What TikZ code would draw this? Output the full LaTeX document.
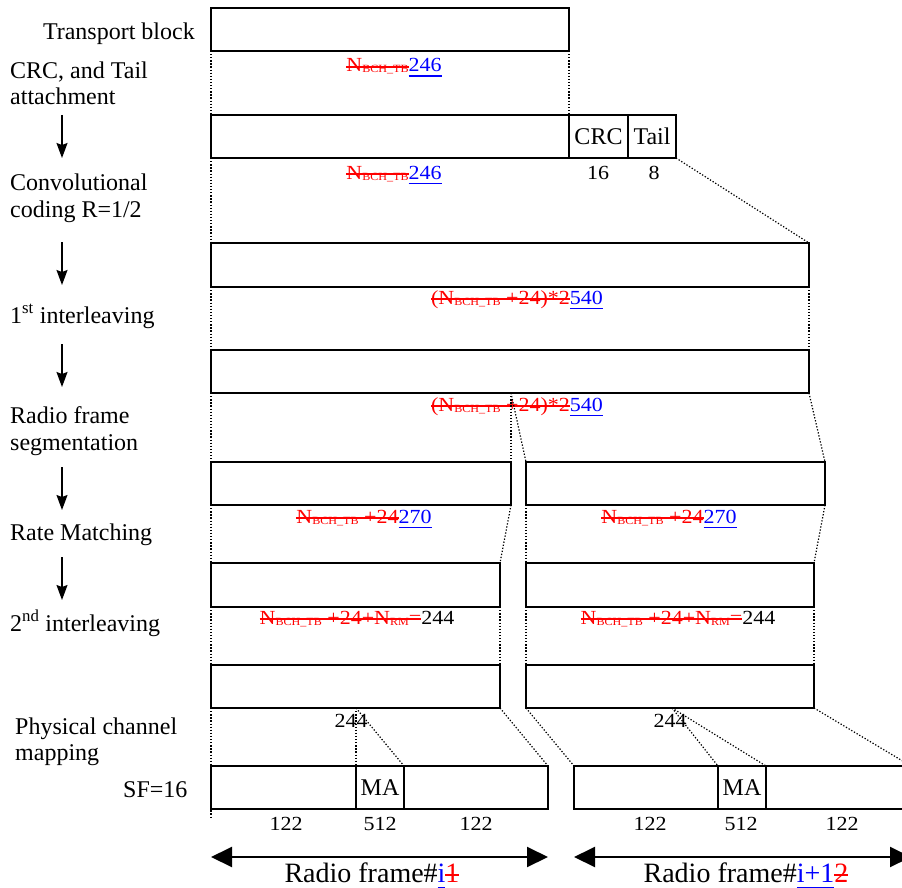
\documentclass[tikz,border=0pt]{standalone}
\usepackage{fontspec}
\setmainfont{Liberation Serif}
\newfontfamily\labfont[FakeStretch=1.1]{Liberation Serif}
\usetikzlibrary{arrows.meta}
\newsavebox\strkbox
\newcommand\rdel[1]{\textcolor{red}{\sbox\strkbox{#1}\rlap{\rule[0.22em]{\wd\strkbox}{0.065em}}\usebox\strkbox}}
\newcommand\bins[1]{\textcolor{blue}{\sbox\strkbox{#1}\rlap{\rule[-0.24em]{\wd\strkbox}{0.065em}}\usebox\strkbox}}
\newcommand\sbs[1]{\raisebox{-1pt}{\fontsize{11}{11}\selectfont #1}}
\begin{document}
\begin{tikzpicture}[x=1pt,y=-1pt,
  box/.style={draw, line width=1.6pt, inner sep=0pt, outer sep=0pt, anchor=north west, font=\fontsize{24}{27}\selectfont},
  lab/.style={inner sep=0pt, anchor=base, font=\labfont\fontsize{20}{22}\selectfont},
  side/.style={inner sep=0pt, anchor=base west, font=\fontsize{24}{27}\selectfont},
  big/.style={inner sep=0pt, anchor=base, font=\fontsize{28}{32}\selectfont},
  dots/.style={line width=1.2pt, dash pattern=on 1.3pt off 1.8pt},
  down/.style={line width=1.5pt, -{Stealth[length=15pt,width=11pt,inset=2pt]}},
  span/.style={line width=2pt, {Triangle[length=21pt,width=20pt]}-{Triangle[length=21pt,width=20pt]}}]
\useasboundingbox (0,0) rectangle (902,888);

% left column
\node[inner sep=0pt, anchor=base east, font=\fontsize{24}{27}\selectfont] (s1) at (195,40) {Transport block};
\node[side] (s2) at (10,79) {CRC, and Tail};
\node[side] (s3) at (10,105) {attachment};
\node[side] (s4) at (10,190) {Convolutional};
\node[side] (s5) at (10,217) {coding R=1/2};
\node[side] (s6) at (10,323) {1\textsuperscript{st} interleaving};
\node[side] (s7) at (10,423) {Radio frame};
\node[side] (s8) at (10,450) {segmentation};
\node[side] (s9) at (10,540) {Rate Matching};
\node[side] (s10) at (10,631) {2\textsuperscript{nd} interleaving};
\node[side] (s11) at (15,734) {Physical channel};
\node[side] (s12) at (15,760) {mapping};
\node[side] (s13) at (123,797) {SF=16};

\coordinate (a1s) at (62,115); \coordinate (a1e) at (62,158);
\coordinate (a2s) at (62,242); \coordinate (a2e) at (62,285);
\coordinate (a3s) at (62,344); \coordinate (a3e) at (62,387);
\coordinate (a4s) at (62,467); \coordinate (a4e) at (62,510);
\coordinate (a5s) at (62,557); \coordinate (a5e) at (62,600);
\draw[down] (a1s) -- (a1e);
\draw[down] (a2s) -- (a2e);
\draw[down] (a3s) -- (a3e);
\draw[down] (a4s) -- (a4e);
\draw[down] (a5s) -- (a5e);

% boxes
\node[box, minimum width=358, minimum height=43] (tb) at (211,8) {};
\node[box, minimum width=358, minimum height=43] (b2) at (211,115) {};
\node[box, minimum width=59, minimum height=43] (crc) at (569,115) {CRC};
\node[box, minimum width=48, minimum height=43] (tail) at (628,115) {Tail};
\node[box, minimum width=598, minimum height=44] (b3) at (211,243) {};
\node[box, minimum width=598, minimum height=43] (b4) at (211,350) {};
\node[box, minimum width=300, minimum height=43] (b5l) at (211,462) {};
\node[box, minimum width=299, minimum height=43] (b5r) at (526,462) {};
\node[box, minimum width=289, minimum height=44] (b6l) at (211,563) {};
\node[box, minimum width=288, minimum height=44] (b6r) at (526,563) {};
\node[box, minimum width=289, minimum height=43] (b7l) at (211,665) {};
\node[box, minimum width=288, minimum height=43] (b7r) at (526,665) {};
\node[box, minimum width=337, minimum height=43] (sfl) at (211,766) {};
\node[box, minimum width=337, minimum height=43] (sfr) at (574,766) {};
\node[box, minimum width=48, minimum height=43] (ma1) at (356,766) {MA};
\node[box, minimum width=48, minimum height=43] (ma2) at (718,766) {MA};

% labels
\node[lab] (l1) at (394,72) {\rdel{N\sbs{BCH\_TB}}\bins{246}};
\node[lab] (l2) at (394,179) {\rdel{N\sbs{BCH\_TB}}\bins{246}};
\node[lab] (n16) at (598,179) {16};
\node[lab] (n8) at (654,179) {8};
\node[lab] (l3) at (517,304) {\rdel{(N\sbs{BCH\_TB} +24)*2}\bins{540}};
\node[lab] (l4) at (517,411) {\rdel{(N\sbs{BCH\_TB} +24)*2}\bins{540}};
\node[lab] (l5a) at (364,523) {\rdel{N\sbs{BCH\_TB} +24}\bins{270}};
\node[lab] (l5b) at (669,523) {\rdel{N\sbs{BCH\_TB} +24}\bins{270}};
\node[lab] (l6a) at (357,624) {\rdel{N\sbs{BCH\_TB} +24+N\sbs{RM}=}244};
\node[lab] (l6b) at (678,624) {\rdel{N\sbs{BCH\_TB} +24+N\sbs{RM}=}244};
\node[lab] (m1) at (351,727) {244};
\node[lab] (m2) at (670,727) {244};
\node[lab] (c1) at (286,830) {122};
\node[lab] (c2) at (380,830) {512};
\node[lab] (c3) at (476,830) {122};
\node[lab] (c4) at (650,830) {122};
\node[lab] (c5) at (741,830) {512};
\node[lab] (c6) at (842,830) {122};
\node[big] (rf1) at (372,882) {Radio frame\#\bins{i}\rdel{1}};
\node[big] (rf2) at (746,882) {Radio frame\#\bins{i+1}\rdel{2}};

% dotted connectors
\draw[dots] (tb.south west) -- (b2.north west);
\draw[dots] (tb.south east) -- (b2.north east);
\draw[dots] (b2.south west) -- (b3.north west);
\draw[dots] (tail.south east) -- (b3.north east);
\draw[dots] (b3.south west) -- (b4.north west);
\draw[dots] (b3.south east) -- (b4.north east);
\coordinate (sp) at (b5l.north east |- b4.south);
\draw[dots] (b4.south west) -- (b5l.north west);
\draw[dots] (sp) -- (b5l.north east);
\draw[dots] (sp) -- (b5r.north west);
\draw[dots] (b4.south east) -- (b5r.north east);
\draw[dots] (b5l.south west) -- (b6l.north west);
\draw[dots] (b5l.south east) -- (b6l.north east);
\draw[dots] (b5r.south west) -- (b6r.north west);
\draw[dots] (b5r.south east) -- (b6r.north east);
\draw[dots] (b6l.south west) -- (b7l.north west);
\draw[dots] (b6l.south east) -- (b7l.north east);
\draw[dots] (b6r.south west) -- (b7r.north west);
\draw[dots] (b6r.south east) -- (b7r.north east);
\coordinate (lend) at (211,818);
\draw[dots] (b7l.south west) -- (lend);
\coordinate (pm1) at (ma1.north west |- b7l.south);
\draw[dots] (pm1) -- (ma1.north west);
\draw[dots] (pm1) -- (ma1.north east);
\draw[dots] (b7l.south east) -- (sfl.north east);
\coordinate (pm2) at (672,708);
\draw[dots] (b7r.south west) -- (sfr.north west);
\draw[dots] (pm2) -- (ma2.north west);
\draw[dots] (pm2) -- (ma2.north east);
\draw[dots] (b7r.south east) -- (sfr.north east);

% radio frame spans
\coordinate (r1a) at (sfl.west |- 0,857);
\coordinate (r1b) at (sfl.east |- 0,857);
\coordinate (r2a) at (sfr.west |- 0,857);
\coordinate (r2b) at (sfr.east |- 0,857);
\draw[span] (r1a) -- (r1b);
\draw[span] (r2a) -- (r2b);
\end{tikzpicture}
\end{document}
